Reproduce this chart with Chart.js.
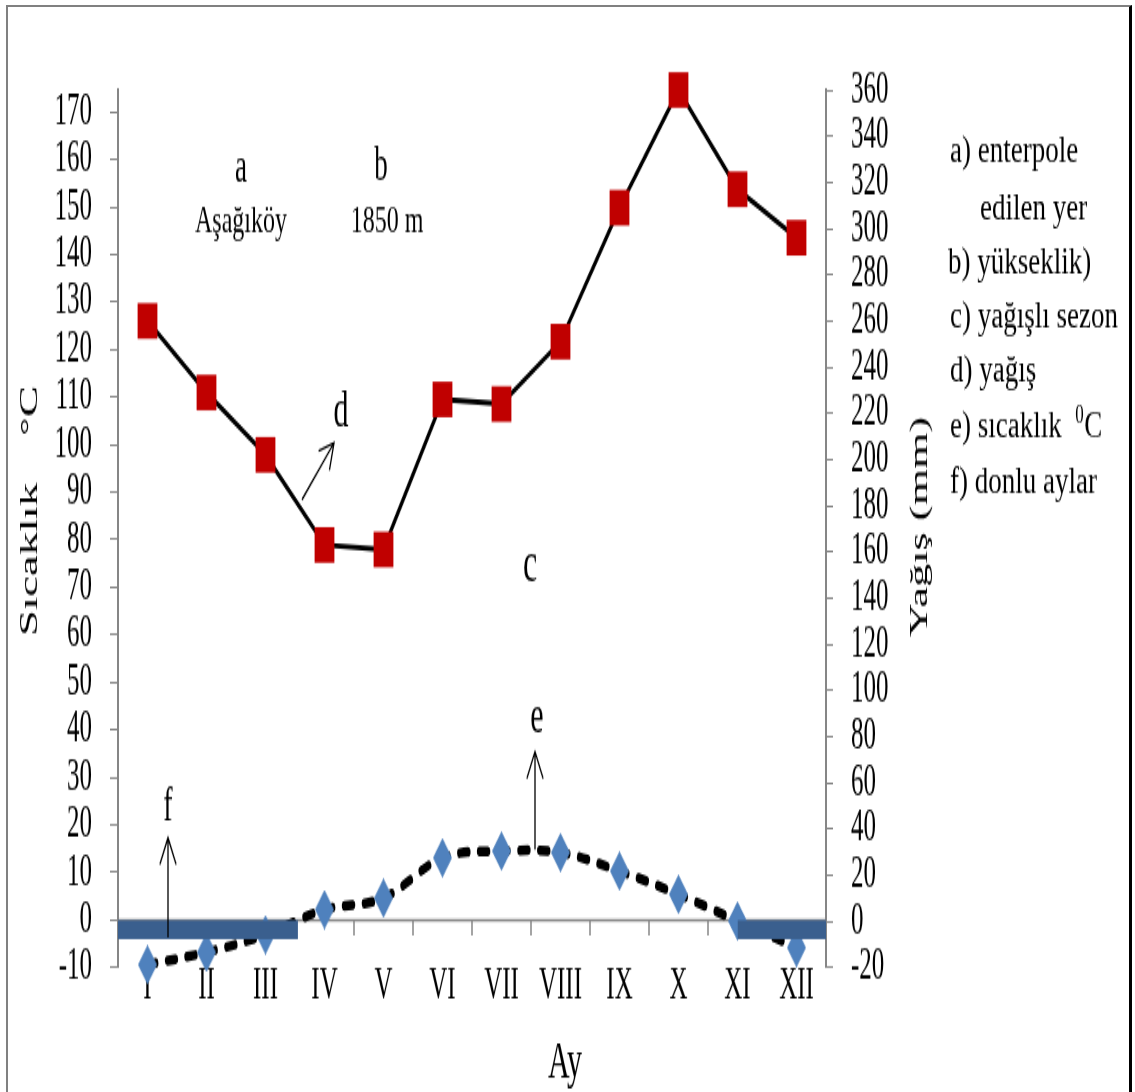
<!DOCTYPE html>
<html>
<head>
<meta charset="utf-8">
<script src="https://cdn.jsdelivr.net/npm/chart.js@4.4.1/dist/chart.umd.min.js"></script>
<style>
  html, body { margin: 0; padding: 0; background: #fff; }
  #wrap { position: relative; width: 1135px; height: 1092px; overflow: hidden; }
  #frame {
    position: absolute; left: 6px; top: 5px; width: 1121px; height: 1100px;
    border-top: 2px solid #808080; border-left: 2px solid #808080; border-right: 3px solid #000;
    pointer-events: none;
  }
</style>
</head>
<body>
<div id="wrap">
  <canvas id="c" width="1135" height="607" style="display:block;width:1135px;height:1092px"></canvas>
  <div id="frame"></div>
</div>
<script>
// Months (Roman numerals)
const months = ['I', 'II', 'III', 'IV', 'V', 'VI', 'VII', 'VIII', 'IX', 'X', 'XI', 'XII'];

// Precipitation, mm (right axis)
const precipitation = [260, 229, 202, 163, 161, 226, 224, 251, 309, 360, 317, 296];

// Temperature, °C (left axis)
const temperature = [-9.4, -6.8, -3.1, 2.2, 4.6, 13.1, 14.5, 14.2, 10.3, 5.4, -0.2, -5.8];

// Frost months bands (month index range) and depth on the temperature axis
const frostBands = [[-0.5, 2.55], [10, 11.5]];
const frostDepth = -4;

// The source picture is an Excel chart stretched vertically,
// so the canvas is drawn short and stretched by css.
const FONT = '"Liberation Serif", "Times New Roman", serif';

function txt(ctx, s, x, y, size, sy, align, baseline) {
    ctx.save();
    ctx.translate(x, y);
    ctx.scale(1, sy);
    ctx.font = size + 'px ' + FONT;
    ctx.textAlign = align || 'center';
    ctx.textBaseline = baseline || 'middle';
    ctx.fillStyle = '#000';
    ctx.fillText(s, 0, 0);
    ctx.restore();
}

function arrow(ctx, x1, y1, x2, y2, head) {
    const a = Math.atan2(y2 - y1, x2 - x1);
    ctx.save();
    ctx.strokeStyle = '#000';
    ctx.lineWidth = 1.3;
    ctx.beginPath();
    ctx.moveTo(x1, y1);
    ctx.lineTo(x2, y2);
    ctx.moveTo(x2 - head * Math.cos(a - 0.5), y2 - head * Math.sin(a - 0.5));
    ctx.lineTo(x2, y2);
    ctx.lineTo(x2 - head * Math.cos(a + 0.5), y2 - head * Math.sin(a + 0.5));
    ctx.stroke();
    ctx.restore();
}

// zero line with category tick marks, like the excel horizontal axis
const zeroAxis = {
    id: 'zeroAxis',
    beforeDatasetsDraw(chart) {
        const ctx = chart.ctx;
        const x = chart.scales.x, y = chart.scales.y;
        const y0 = y.getPixelForValue(0);
        ctx.save();
        ctx.strokeStyle = '#868686';
        ctx.lineWidth = 1.5;
        ctx.beginPath();
        ctx.moveTo(chart.chartArea.left, y0);
        ctx.lineTo(chart.chartArea.right, y0);
        for (let i = 0; i < months.length - 1; i++) {
            const px = x.getPixelForValue(i + 0.5);
            ctx.moveTo(px, y0);
            ctx.lineTo(px, y0 + 8.5);
        }
        ctx.stroke();
        ctx.restore();
    }
};

const notes = {
    id: 'notes',
    afterDraw(chart) {
        const ctx = chart.ctx;
        // station info
        txt(ctx, 'a', 241, 94.4, 27, 1);
        txt(ctx, 'Aşağıköy', 241, 123.3, 24, 0.85);
        txt(ctx, 'b', 381, 93.3, 27, 1);
        txt(ctx, '1850 m', 387, 123.3, 24, 0.85);
        // markers letters + arrows
        txt(ctx, 'd', 341, 229.4, 30, 1);
        arrow(ctx, 302, 277.8, 334, 246.1, 16);
        txt(ctx, 'c', 530, 315, 32, 1);
        txt(ctx, 'e', 537, 398.9, 30, 1);
        arrow(ctx, 535, 472.2, 535, 417.8, 17);
        txt(ctx, 'f', 168, 448.9, 28, 1);
        arrow(ctx, 168, 521.1, 168, 465.6, 17);

        // axis titles
        ctx.save();
        ctx.translate(30, 283.9);
        ctx.rotate(-Math.PI / 2);
        txt(ctx, 'Sıcaklık    °C', 0, 0, 26, 1);
        ctx.restore();
        ctx.save();
        ctx.translate(920, 292.8);
        ctx.rotate(-Math.PI / 2);
        txt(ctx, 'Yağış (mm)', 0, 0, 26, 1);
        ctx.restore();
        txt(ctx, 'Ay', 565, 598.9, 30, 1, 'center', 'alphabetic');

        // legend text
        const ls = 0.8;
        txt(ctx, 'a) enterpole', 950, 90, 27, ls, 'left', 'alphabetic');
        txt(ctx, 'edilen yer', 980, 122.2, 27, ls, 'left', 'alphabetic');
        txt(ctx, 'b) yükseklik)', 948, 151.7, 27, ls, 'left', 'alphabetic');
        txt(ctx, 'c) yağışlı sezon', 950, 182.2, 27, ls, 'left', 'alphabetic');
        txt(ctx, 'd) yağış', 950, 212.2, 27, ls, 'left', 'alphabetic');
        ctx.save();
        ctx.font = '27px ' + FONT;
        const w = ctx.measureText('e) sıcaklık  ').width;
        ctx.restore();
        txt(ctx, 'e) sıcaklık  ', 950, 243.3, 27, ls, 'left', 'alphabetic');
        txt(ctx, '0', 950 + w, 235, 17, ls, 'left', 'alphabetic');
        txt(ctx, 'C', 950 + w + 9, 243.3, 27, ls, 'left', 'alphabetic');
        txt(ctx, 'f) donlu aylar', 950, 273.9, 27, ls, 'left', 'alphabetic');
    }
};

// taller diamond marker like the source
function diamondImage() {
    const cv = document.createElement('canvas');
    cv.width = 19; cv.height = 22;
    const g = cv.getContext('2d');
    g.fillStyle = '#4F81BD';
    g.beginPath();
    g.moveTo(9.5, 0); g.lineTo(19, 11); g.lineTo(9.5, 22); g.lineTo(0, 11);
    g.closePath();
    g.fill();
    return cv;
}

const precipPoints = precipitation.map((v, i) => ({ x: i, y: v }));
const tempPoints = temperature.map((v, i) => ({ x: i, y: v }));

const frostSets = frostBands.map(b => ({
    label: 'donlu aylar',
    data: [{ x: b[0], y: frostDepth }, { x: b[1], y: frostDepth }],
    yAxisID: 'y',
    borderWidth: 0,
    pointRadius: 0,
    backgroundColor: '#3A5F8E',
    fill: { value: 0 },
    order: 1,
    clip: false
}));

const tickFont = { family: FONT, size: 25 };

new Chart(document.getElementById('c'), {
    type: 'line',
    data: {
        datasets: [
            {
                label: 'yağış',
                data: precipPoints,
                yAxisID: 'y1',
                borderColor: '#000',
                borderWidth: 3,
                tension: 0,
                pointStyle: 'rect',
                pointRadius: 14,
                pointBackgroundColor: '#C00000',
                pointBorderColor: '#C00000',
                pointBorderWidth: 0,
                order: 2,
                clip: false
            },
            {
                label: 'sıcaklık',
                data: tempPoints,
                yAxisID: 'y',
                borderColor: '#000',
                borderWidth: 5.5,
                borderDash: [8, 12],
                borderCapStyle: 'round',
                tension: 0.35,
                pointStyle: diamondImage(),
                pointRadius: 10,
                order: 3,
                clip: false
            },
            ...frostSets
        ]
    },
    options: {
        responsive: false,
        animation: false,
        events: [],
        layout: { padding: { top: 50, left: 0, right: 0, bottom: 0 }, autoPadding: false },
        plugins: {
            legend: { display: false },
            tooltip: { enabled: false }
        },
        scales: {
            x: {
                type: 'linear',
                min: -0.5,
                max: 11.5,
                afterBuildTicks: s => { s.ticks = months.map((m, i) => ({ value: i })); },
                afterFit: s => { s.height = 607 - 537.8; },
                grid: { display: false },
                border: { display: false },
                ticks: {
                    autoSkip: false,
                    maxRotation: 0,
                    padding: -12,
                    color: '#000',
                    font: tickFont,
                    callback: v => months[v]
                }
            },
            y: {
                position: 'left',
                min: -10,
                max: 174.6,
                afterFit: s => { s.width = 118; },
                grid: { drawOnChartArea: false, drawTicks: true, tickLength: 8, color: '#868686', lineWidth: 1 },
                border: { display: true, color: '#868686', width: 2 },
                ticks: { stepSize: 10, includeBounds: false, autoSkip: false, maxTicksLimit: 100, padding: 18, color: '#000', font: tickFont }
            },
            y1: {
                position: 'right',
                min: -20,
                max: 360,
                afterFit: s => { s.width = 1135 - 826; },
                grid: { drawOnChartArea: false, drawTicks: true, tickLength: 7, color: '#868686', lineWidth: 1 },
                border: { display: true, color: '#868686', width: 2 },
                ticks: { stepSize: 20, autoSkip: false, maxTicksLimit: 100, padding: 18, color: '#000', font: tickFont }
            }
        }
    },
    plugins: [zeroAxis, notes]
});
</script>
</body>
</html>
